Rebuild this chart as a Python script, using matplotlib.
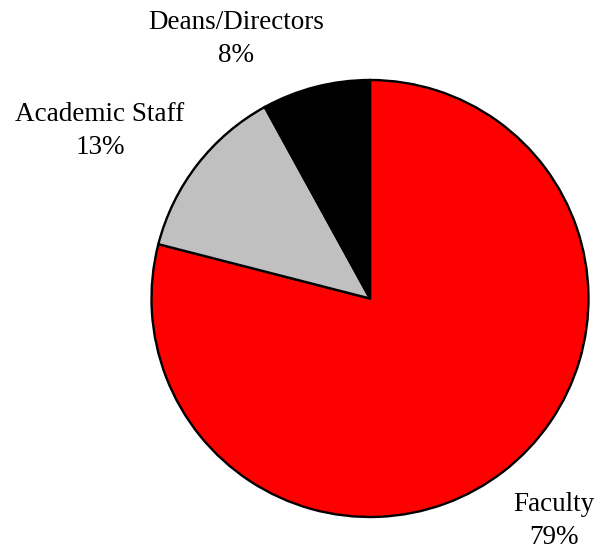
import matplotlib.pyplot as plt

# data
labels = ["Faculty", "Academic Staff", "Deans/Directors"]
shares = [79, 13, 8]
colors = ["#FF0000", "#C0C0C0", "#000000"]

# label centres in pixel units (figure is 600x552)
label_xy = [(554, 31), (100, 421), (236, 513)]

plt.rcParams['font.family'] = ['Liberation Serif', 'DejaVu Serif']

fig = plt.figure(figsize=(6, 5.52), dpi=100)
ax = fig.add_axes([0, 0, 1, 1])

ax.pie(shares, colors=colors, startangle=90, counterclock=False,
       center=(370, 253.5), radius=218.5,
       wedgeprops=dict(edgecolor='black', linewidth=1.7))

for name, pct, (x, y) in zip(labels, shares, label_xy):
    ax.text(x, y, f"{name}\n{pct}%", ha='center', va='center',
            multialignment='center', fontsize=19.5, linespacing=1.45)

ax.set_xlim(0, 600)
ax.set_ylim(0, 552)
ax.set_aspect('equal')
ax.axis('off')

fig.savefig("out.png", dpi=100)
